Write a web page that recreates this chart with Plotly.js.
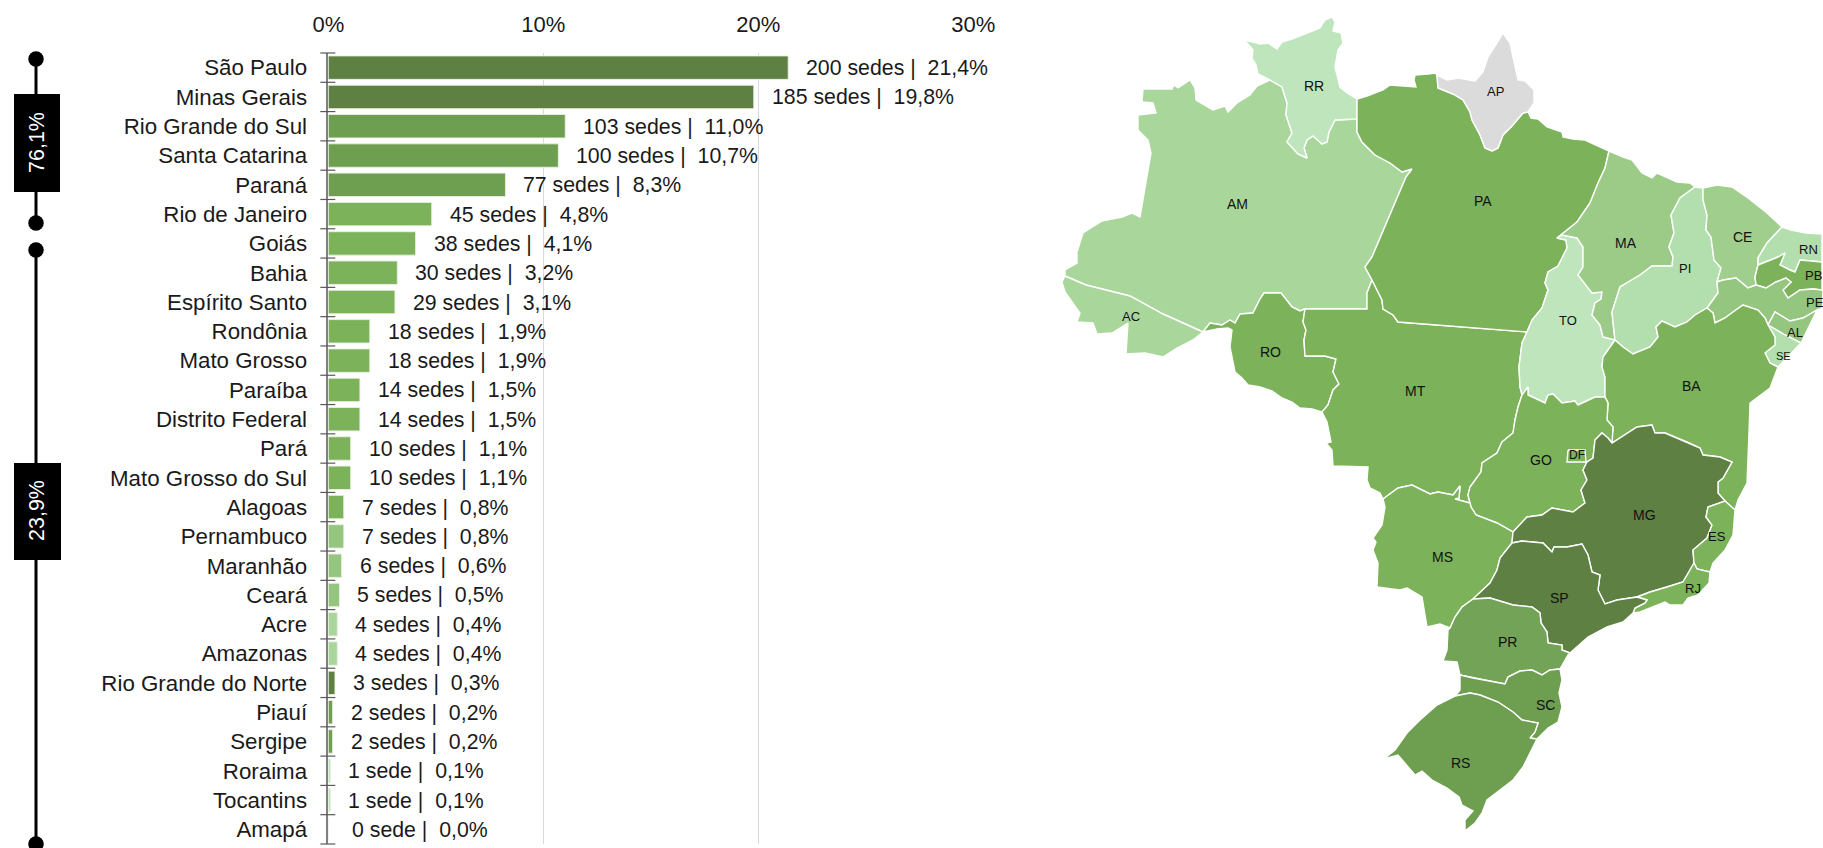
<!DOCTYPE html>
<html><head><meta charset="utf-8">
<script src="https://cdn.plot.ly/plotly-3.0.1.min.js"></script>
<style>html,body{margin:0;padding:0;background:#fff;overflow:hidden}</style>
</head><body><div id="chart" style="width:1823px;height:848px"></div>
<script>
// ---------- bar chart data ----------
const states = ["São Paulo","Minas Gerais","Rio Grande do Sul","Santa Catarina","Paraná","Rio de Janeiro","Goiás","Bahia","Espírito Santo","Rondônia","Mato Grosso","Paraíba","Distrito Federal","Pará","Mato Grosso do Sul","Alagoas","Pernambuco","Maranhão","Ceará","Acre","Amazonas","Rio Grande do Norte","Piauí","Sergipe","Roraima","Tocantins","Amapá"];
const sedes = [200,185,103,100,77,45,38,30,29,18,18,14,14,10,10,7,7,6,5,4,4,3,2,2,1,1,0];
const pct = [21.4,19.8,11.0,10.7,8.3,4.8,4.1,3.2,3.1,1.9,1.9,1.5,1.5,1.1,1.1,0.8,0.8,0.6,0.5,0.4,0.4,0.3,0.2,0.2,0.1,0.1,0.0];
const barLength = [21.39,19.79,11.02,10.70,8.24,4.81,4.06,3.21,3.10,1.93,1.93,1.47,1.47,1.04,1.04,0.72,0.72,0.62,0.52,0.42,0.42,0.31,0.2,0.2,0.1,0.1,0];
const C1="#5E8043",C2="#6E9E50",C3="#7CB25A",C4="#95C67F",C5="#A9D69B",C6="#B2DFAD",C7="#BEE5BC",C0="#DBDBDB";
const barColors = [C1,C1,C2,C2,C2,C3,C3,C3,C3,C3,C3,C3,C3,C3,C3,C3,C4,C4,C4,C5,C5,C1,C2,C2,C7,C7,C0];
const xTicks=[0,10,20,30];
const xTickLabels=["0%","10%","20%","30%"];

// ---------- left brackets ----------
const bracket1X=[36,36], bracket1Y=[59,223];
const bracket2X=[36,36], bracket2Y=[250,844];
const bracketLabels=["76,1%","23,9%"], bracketLabelX=[37,37], bracketLabelY=[143,511];

// ---------- map borders (x,y pairs in map units) ----------
const RR_north=[[1270,80],[1258,74],[1256,65],[1252,58],[1253,50],[1242,37],[1245,40],[1253,42],[1260,44],[1268,43],[1277,49],[1282,42],[1292,39],[1307,33],[1320,28],[1325,20],[1332,17],[1335,22],[1333,31],[1341,33],[1343,43],[1338,50],[1335,67],[1340,87],[1347,93],[1357,99]];
const RR_PA=[[1357,99],[1357,119]];
const RR_AM=[[1357,119],[1335,120],[1329,132],[1327,142],[1322,144],[1313,136],[1307,140],[1304,148],[1307,158],[1298,154],[1287,142],[1292,133],[1286,115],[1287,103],[1282,87],[1270,80]];
const AM_north=[[1270,80],[1257,86],[1250,95],[1237,103],[1228,112],[1225,106],[1213,110],[1196,100],[1195,88],[1190,80],[1178,88],[1174,85],[1172,89],[1143,89],[1142,102],[1153,103],[1156,113],[1138,115],[1138,130],[1148,140],[1151,153],[1140,217],[1132,213],[1122,217],[1102,221],[1083,233],[1077,252],[1077,263],[1065,270],[1065,276]];
const AM_AC=[[1065,276],[1086,285],[1130,296],[1163,314],[1203,332]];
const AC_outer=[[1065,276],[1062,282],[1065,292],[1080,313],[1077,322],[1093,323],[1097,334],[1112,333],[1128,323],[1126,354],[1145,353],[1163,357],[1177,348],[1193,340],[1203,332]];
const AM_RO=[[1203,332],[1210,323],[1222,325],[1230,320],[1235,323],[1240,314],[1253,313],[1260,299],[1264,293],[1281,293],[1292,307],[1300,311],[1305,309]];
const AM_MT=[[1305,309],[1367,309],[1367,293],[1372,280]];
const AM_PA=[[1372,280],[1365,267],[1372,257],[1406,177],[1412,169],[1402,172],[1390,163],[1375,155],[1362,142],[1357,132],[1357,119]];
const RO_MT=[[1305,309],[1303,322],[1306,330],[1304,340],[1305,356],[1325,356],[1336,359],[1333,372],[1339,384],[1333,390],[1328,405],[1322,412]];
const RO_outer=[[1322,412],[1312,409],[1300,408],[1292,402],[1282,398],[1272,391],[1260,387],[1248,385],[1242,378],[1235,372],[1232,358],[1230,347],[1232,330],[1228,328],[1217,329],[1203,332]];
const MT_PA=[[1372,280],[1382,300],[1383,309],[1393,315],[1398,322],[1527,332]];
const MT_TO=[[1527,332],[1522,343],[1519,367],[1520,387],[1522,395]];
const MT_GO=[[1522,395],[1518,407],[1515,420],[1513,433],[1502,442],[1497,453],[1482,463],[1481,472],[1470,487],[1468,495],[1470,503]];
const MT_MS=[[1470,503],[1455,499],[1459,498],[1460,486],[1453,495],[1438,492],[1430,494],[1412,485],[1398,488],[1383,499]];
const MT_outer=[[1383,499],[1380,493],[1370,488],[1367,480],[1368,467],[1333,466],[1332,450],[1326,443],[1331,442],[1327,422],[1322,412]];
const GO_MS=[[1470,503],[1471,507],[1476,515],[1497,523],[1513,532]];
const MG_MS=[[1513,532],[1512,543]];
const SP_MS=[[1512,543],[1500,558],[1497,570],[1490,583],[1473,599]];
const MS_PR=[[1473,599],[1462,607],[1455,617],[1450,628]];
const MS_outer=[[1450,628],[1440,624],[1427,627],[1422,597],[1407,588],[1400,590],[1377,587],[1378,563],[1373,550],[1376,542],[1373,538],[1382,525],[1385,507],[1383,499]];
const TO_GO=[[1605,397],[1595,397],[1578,405],[1575,401],[1562,403],[1553,394],[1548,395],[1545,403],[1528,395],[1528,387],[1522,395]];
const GO_BA=[[1605,397],[1608,403],[1607,420],[1613,427],[1612,443]];
const GO_MG=[[1612,443],[1608,438],[1602,433],[1595,440],[1593,458],[1587,462],[1583,470],[1587,480],[1581,490],[1585,503],[1573,512],[1552,508],[1542,515],[1527,517],[1513,532]];
const PA_TO=[[1527,332],[1532,320],[1542,308],[1548,290],[1545,283],[1548,272],[1558,266],[1567,248],[1566,240],[1557,238]];
const TO_MA=[[1557,238],[1562,235],[1577,238],[1583,247],[1583,267],[1578,275],[1592,293],[1602,292],[1601,299],[1595,303],[1592,315],[1600,325],[1603,337],[1615,340]];
const TO_BA=[[1615,340],[1603,357],[1602,367],[1605,377],[1605,397]];
const PA_MA=[[1557,238],[1577,222],[1590,203],[1598,183],[1605,168],[1609,151]];
const MA_coast=[[1609,151],[1623,157],[1632,160],[1642,173],[1652,178],[1657,173],[1677,182],[1690,183],[1695,187]];
const PI_MA=[[1615,340],[1613,323],[1612,312],[1620,287],[1640,275],[1652,266],[1672,266],[1673,257],[1669,247],[1674,233],[1671,215],[1680,198],[1695,187]];
const PA_coastW=[[1357,99],[1367,96],[1373,94],[1383,90],[1390,85],[1403,86],[1416,87],[1414,80],[1415,75],[1428,74],[1435,73],[1437,75]];
const PA_AP=[[1437,75],[1438,88],[1453,94],[1463,100],[1470,112],[1472,120],[1480,135],[1485,148],[1492,151],[1498,148],[1503,135],[1512,126],[1523,113],[1528,112]];
const PA_coastE=[[1528,112],[1531,118],[1538,119],[1547,127],[1562,132],[1563,137],[1573,139],[1585,140],[1600,147],[1609,151]];
const AP_outer=[[1437,75],[1447,80],[1458,78],[1475,81],[1483,72],[1488,57],[1497,43],[1503,33],[1510,43],[1513,57],[1518,80],[1525,81],[1534,90],[1534,103],[1528,112]];
const PI_CE=[[1703,188],[1703,200],[1707,215],[1706,230],[1711,237],[1714,260],[1721,268],[1717,282]];
const PI_PE=[[1717,282],[1718,293],[1707,308]];
const PI_BA=[[1707,308],[1695,315],[1687,322],[1675,327],[1662,321],[1656,327],[1658,337],[1650,347],[1633,354],[1623,347],[1615,340]];
const CE_coast=[[1703,188],[1717,185],[1732,187],[1748,198],[1767,213],[1782,227]];
const CE_RN=[[1782,227],[1767,243],[1758,258],[1758,265]];
const CE_PB=[[1758,265],[1755,277],[1756,285]];
const CE_PE=[[1756,285],[1748,288],[1736,278],[1723,280],[1717,282]];
const RN_coast=[[1782,227],[1791,230],[1806,233],[1822,234],[1822,262]];
const RN_PB=[[1822,262],[1800,260],[1795,272],[1790,270],[1780,265],[1785,253],[1778,257],[1766,262],[1758,265]];
const PB_PE=[[1822,290],[1813,289],[1800,290],[1788,298],[1783,290],[1791,282],[1786,278],[1776,282],[1766,288],[1756,285]];
const PE_BA=[[1707,308],[1713,313],[1715,323],[1725,318],[1733,312],[1743,305],[1758,310],[1765,318],[1768,325]];
const PE_AL=[[1768,325],[1775,312],[1790,321],[1803,318],[1817,310]];
const PE_coast=[[1817,310],[1822,308]];
const SE_AL=[[1768,325],[1785,335],[1801,343]];
const AL_coast=[[1817,310],[1801,343]];
const SE_coast=[[1801,343],[1786,358],[1778,367]];
const SE_BA=[[1778,367],[1770,363],[1765,353],[1775,345],[1775,337],[1768,325]];
const BA_coast=[[1778,367],[1770,388],[1750,403],[1749,433],[1747,483],[1738,500],[1735,510]];
const BA_ES=[[1735,510],[1725,501]];
const BA_MG=[[1725,501],[1718,493],[1718,482],[1723,478],[1732,462],[1720,457],[1703,455],[1700,448],[1687,442],[1665,433],[1655,433],[1652,425],[1637,427],[1612,443]];
const ES_coast=[[1735,510],[1733,535],[1725,550],[1713,563],[1710,572]];
const ES_RJ=[[1694,563],[1697,569],[1710,572]];
const MG_ES=[[1725,501],[1708,507],[1706,517],[1712,525],[1707,538],[1693,550],[1694,563]];
const MG_RJ=[[1694,563],[1683,582],[1667,587],[1650,592],[1637,597]];
const SP_MG=[[1512,543],[1522,541],[1543,543],[1552,552],[1554,547],[1567,547],[1582,544],[1588,555],[1592,572],[1600,575],[1598,590],[1605,604],[1617,600],[1637,597]];
const SP_RJ=[[1637,597],[1647,600],[1645,603],[1635,608],[1633,613]];
const RJ_coast=[[1710,572],[1709,583],[1698,595],[1688,598],[1683,605],[1670,605],[1665,602],[1652,607],[1640,612],[1633,613]];
const SP_coast=[[1633,613],[1623,622],[1607,627],[1588,637],[1570,653]];
const SP_PR=[[1570,653],[1562,650],[1562,645],[1548,643],[1547,632],[1541,623],[1540,613],[1532,607],[1513,605],[1490,598],[1473,599]];
const PR_coast=[[1570,653],[1568,655],[1560,669]];
const PR_SC=[[1460,675],[1473,678],[1505,684],[1508,677],[1520,671],[1532,670],[1542,675],[1550,670],[1560,669]];
const PR_W=[[1460,675],[1457,662],[1443,661],[1447,650],[1448,630],[1450,628]];
const SC_coast=[[1560,669],[1562,680],[1559,693],[1562,707],[1558,722],[1548,728],[1537,739]];
const SC_RS=[[1537,739],[1530,738],[1535,732],[1538,723],[1522,720],[1513,712],[1498,702],[1480,695],[1470,693],[1455,696]];
const SC_W=[[1455,696],[1460,690],[1460,675]];
const RS_outer=[[1455,696],[1437,705],[1420,720],[1407,733],[1395,750],[1384,759],[1398,755],[1415,775],[1422,771],[1432,780],[1447,788],[1459,797],[1462,805],[1473,811],[1465,820],[1465,831],[1475,823],[1482,813],[1487,800],[1500,790],[1513,780],[1523,767],[1532,750],[1537,739]];
const DF_box=[[1568,450],[1585,450],[1586,462],[1567,462],[1568,450]];

const rev=a=>a.slice().reverse();
const mapStates=[
 ["AM","#A9D69B",[AM_north,AM_AC,AM_RO,AM_MT,AM_PA,RR_AM]],
 ["RR","#BEE5BC",[RR_north,RR_PA,RR_AM]],
 ["AC","#A9D69B",[AC_outer,rev(AM_AC)]],
 ["RO","#7CB25A",[AM_RO,RO_MT,RO_outer]],
 ["MT","#7CB25A",[AM_MT,MT_PA,MT_TO,MT_GO,MT_MS,MT_outer,rev(RO_MT)]],
 ["PA","#7CB25A",[rev(RR_PA),PA_coastW,PA_AP,PA_coastE,rev(PA_MA),rev(PA_TO),rev(MT_PA),AM_PA]],
 ["AP","#DBDBDB",[AP_outer,rev(PA_AP)]],
 ["TO","#BEE5BC",[PA_TO,TO_MA,TO_BA,TO_GO,rev(MT_TO)]],
 ["MA","#9CCB87",[PA_MA,MA_coast,rev(PI_MA),rev(TO_MA)]],
 ["PI","#B2DFAD",[PI_MA,PI_CE,PI_PE,PI_BA]],
 ["CE","#A0CF8D",[CE_coast,CE_RN,CE_PB,CE_PE,rev(PI_CE)]],
 ["RN","#B2DFAD",[RN_coast,RN_PB,rev(CE_RN)]],
 ["PB","#7CB25A",[rev(RN_PB),PB_PE,rev(CE_PB)]],
 ["PE","#95C67F",[PB_PE,CE_PE,PI_PE,PE_BA,PE_AL,PE_coast]],
 ["AL","#95C67F",[PE_AL,AL_coast,rev(SE_AL)]],
 ["SE","#B2DFAD",[SE_AL,SE_coast,SE_BA]],
 ["BA","#7CB25A",[rev(PI_BA),PE_BA,rev(SE_BA),BA_coast,BA_ES,BA_MG,rev(GO_BA),rev(TO_BA)]],
 ["GO","#7CB25A",[rev(MT_GO),rev(TO_GO),GO_BA,GO_MG,rev(GO_MS)]],
 ["MS","#7CB25A",[rev(MT_MS),GO_MS,MG_MS,SP_MS,MS_PR,MS_outer]],
 ["MG","#5E8043",[rev(GO_MG),rev(BA_MG),MG_ES,MG_RJ,rev(SP_MG),rev(MG_MS)]],
 ["ES","#7CB25A",[ES_coast,rev(ES_RJ),rev(MG_ES),rev(BA_ES)]],
 ["RJ","#7CB25A",[rev(MG_RJ),ES_RJ,RJ_coast,rev(SP_RJ)]],
 ["SP","#5E8043",[SP_MG,SP_RJ,SP_coast,SP_PR,rev(SP_MS)]],
 ["PR","#72A356",[rev(SP_PR),PR_coast,rev(PR_SC),PR_W,rev(MS_PR)]],
 ["SC","#6E9E50",[PR_SC,SC_coast,SC_RS,SC_W]],
 ["RS","#6E9E50",[RS_outer,SC_RS]],
 ["DF","#7CB25A",[DF_box]]
];
// map label positions
const mapLabels=["RR","AM","PA","AP","MA","CE","RN","PB","PE","AL","SE","PI","TO","BA","AC","RO","MT","GO","DF","MG","ES","RJ","SP","MS","PR","SC","RS"];
const mapLabelX=[1314,1237,1483,1495,1626,1742,1808,1813,1815,1795,1783,1685,1568,1691,1131,1270,1415,1541,1577,1644,1717,1693,1559,1442,1507,1545,1460];
const mapLabelY=[86,204,201,91,243,237,249,275,302,332,356,268,320,386,316,352,391,460,455,515,536,588,598,557,642,705,763];
const mapLabelSize=[14,14,14,13,14,14,13,13,13,13,11,13,13,14,13,14,14,14,12,14,13,13,14,14,14,14,14];

// ---------- page geometry ----------
const W=1823,H=848,FONT='"Liberation Sans", Arial, sans-serif';
const plotL=328.3,plotR=973.3,plotT=53,plotB=844;

const traces=[];
mapStates.forEach(([name,col,chains])=>{
  const pts=[].concat(...chains);
  traces.push({type:'scatter',mode:'lines',xaxis:'x2',yaxis:'y2',name,
    x:pts.map(p=>p[0]),y:pts.map(p=>p[1]),fill:'toself',fillcolor:col,
    line:{color:'#FFFFFF',width:1.4},hoverinfo:'name',showlegend:false});
});
traces.push({type:'bar',orientation:'h',x:barLength,y:states,width:0.8,
  marker:{color:barColors,line:{color:'rgba(235,240,230,0.9)',width:1}},
  hoverinfo:'x+y',showlegend:false,xaxis:'x',yaxis:'y'});
[[bracket1X,bracket1Y],[bracket2X,bracket2Y]].forEach(([bx,by])=>{
  traces.push({type:'scatter',mode:'lines+markers',xaxis:'x2',yaxis:'y2',x:bx,y:by,
    line:{color:'#000',width:3},marker:{color:'#000',size:15.5},hoverinfo:'skip',showlegend:false,cliponaxis:false});
});

const annotations=[];
states.forEach((s,i)=>{
  const unit=sedes[i]>1?'sedes':'sede';
  const pctText=pct[i].toFixed(1).replace('.',',')+'%';
  annotations.push({xref:'x',yref:'y',x:barLength[i],y:s,xanchor:'left',yanchor:'middle',
    xshift:sedes[i]===0?22:16,yshift:-0.5,showarrow:false,
    text:sedes[i]+' '+unit+' |\u00A0\u00A0'+pctText,
    font:{family:FONT,size:21.3,color:'#1a1a1a'}});
});
mapLabels.forEach((t,i)=>annotations.push({xref:'x2',yref:'y2',x:mapLabelX[i],y:mapLabelY[i],showarrow:false,text:t,
  xanchor:'center',yanchor:'middle',font:{family:FONT,size:mapLabelSize[i],color:'#111'}}));
bracketLabels.forEach((t,i)=>annotations.push({xref:'x2',yref:'y2',x:bracketLabelX[i],y:bracketLabelY[i],showarrow:false,text:t,
  textangle:-90,xanchor:'center',yanchor:'middle',font:{family:FONT,size:21.5,color:'#fff'}}));

const shapes=[
 {type:'rect',xref:'x2',yref:'y2',x0:14,x1:60,y0:94,y1:192,fillcolor:'#000',line:{width:0},layer:'above'},
 {type:'rect',xref:'x2',yref:'y2',x0:14,x1:61,y0:463,y1:560,fillcolor:'#000',line:{width:0},layer:'above'}
];
const rowHeight=(plotB-plotT)/states.length;
for(let i=0;i<=states.length;i++){
  const ty=plotT+i*rowHeight;
  shapes.push({type:'line',xref:'x2',yref:'y2',x0:plotL-8,x1:plotL+7,y0:ty,y1:ty,
    line:{color:'#595959',width:1.2},layer:'above'});
}

const layout={
 width:W,height:H,autosize:false,margin:{l:0,r:0,t:0,b:0},paper_bgcolor:'#fff',plot_bgcolor:'rgba(0,0,0,0)',
 font:{family:FONT,color:'#1a1a1a'},showlegend:false,bargap:0.2,
 xaxis:{domain:[plotL/W,plotR/W],range:[0,30],side:'top',anchor:'y',tickmode:'array',tickvals:xTicks,ticktext:xTickLabels,
   tickfont:{family:FONT,size:22,color:'#1a1a1a'},ticks:'',showgrid:true,gridcolor:'#D9D9D9',gridwidth:1.2,zeroline:false,showline:false,ticklabelstandoff:16},
 yaxis:{domain:[1-plotB/H,1-plotT/H],anchor:'x',type:'category',categoryorder:'array',categoryarray:states,range:[26.5,-0.5],
   tickfont:{family:FONT,size:22.3,color:'#1a1a1a'},ticks:'',showgrid:false,zeroline:false,showline:true,linecolor:'#7F7F7F',linewidth:1.5,ticklabelstandoff:15},
 xaxis2:{domain:[0,1],range:[0,W],anchor:'y2',visible:false,fixedrange:true},
 yaxis2:{domain:[0,1],range:[H,0],anchor:'x2',visible:false,fixedrange:true},
 annotations,shapes
};
Plotly.newPlot('chart',traces,layout,{displayModeBar:false,responsive:false});
</script></body></html>
